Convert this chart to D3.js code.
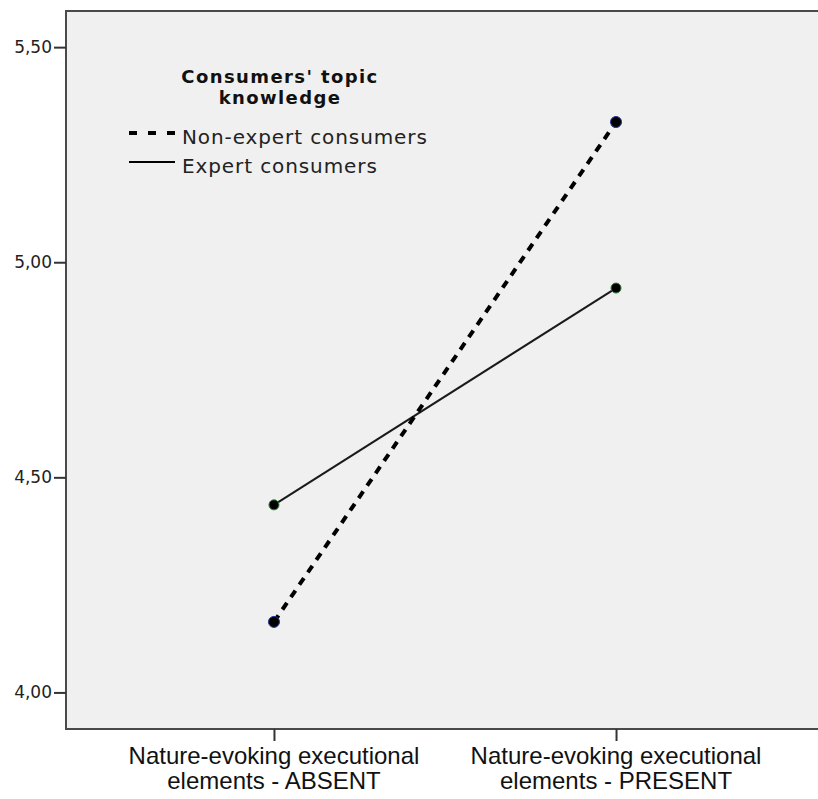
<!DOCTYPE html>
<html>
<head>
    <script src="https://d3js.org/d3.v7.min.js"></script>
    <style>
        body { margin: 0; background: #fff; }
        svg { display: block; }
        .tick text { font-family: "DejaVu Sans", sans-serif; font-size: 17px; fill: #222; }
        .xlab { font-family: "Liberation Sans", Arial, sans-serif; font-size: 24px; fill: #111; }
        .legend-title { font-family: "DejaVu Sans", sans-serif; font-size: 18px; font-weight: bold; fill: #111; letter-spacing: 1.4px; }
        .legend-item { font-family: "DejaVu Sans", sans-serif; font-size: 20px; fill: #222; letter-spacing: 0.9px; }
    </style>
</head>
<body>
    <svg id="chart" width="818" height="799"></svg>
    <script>
        // data
        const categories = ["ABSENT", "PRESENT"];
        const categoryLabels = [
            ["Nature-evoking executional", "elements - ABSENT"],
            ["Nature-evoking executional", "elements - PRESENT"]
        ];
        const nonExpertValues = [4.164, 5.326];
        const expertValues = [4.436, 4.940];
        const yTickValues = [4.00, 4.50, 5.00, 5.50];
        const legendTitle = ["Consumers' topic", "knowledge"];
        const seriesNames = ["Non-expert consumers", "Expert consumers"];

        const svg = d3.select("#chart");
        const margin = { top: 11, right: -6, bottom: 70, left: 66 };
        const width = +svg.attr("width") - margin.left - margin.right;
        const height = +svg.attr("height") - margin.top - margin.bottom;

        const g = svg.append("g").attr("transform", `translate(${margin.left},${margin.top})`);

        const y = d3.scaleLinear().domain([3.915, 5.584]).range([height, 0]);
        const x = d3.scalePoint().domain(categories).range([0, width]).padding(0.608);

        // plot background and frame
        g.append("rect")
            .attr("width", width).attr("height", height)
            .attr("fill", "#f0f0f0")
            .attr("stroke", "#4a4a4a")
            .attr("stroke-width", 2);

        const fmt = v => d3.format(".2f")(v).replace(".", ",");
        const yAxis = g.append("g")
            .call(d3.axisLeft(y).tickValues(yTickValues).tickSize(12).tickPadding(2).tickFormat(fmt));
        yAxis.select(".domain").remove();
        yAxis.selectAll(".tick line").attr("stroke", "#333").attr("stroke-width", 2);

        const xAxis = g.append("g")
            .attr("transform", `translate(0,${height})`)
            .call(d3.axisBottom(x).tickSize(12).tickFormat(""));
        xAxis.select(".domain").remove();
        xAxis.selectAll(".tick line").attr("stroke", "#333").attr("stroke-width", 2);

        categories.forEach((c, i) => {
            const t = g.append("text")
                .attr("class", "xlab")
                .attr("text-anchor", "middle")
                .attr("transform", `translate(${x(c)},${height + 35})`);
            categoryLabels[i].forEach((line, j) => {
                t.append("tspan").attr("x", 0).attr("y", j * 25).text(line);
            });
        });

        const line = d3.line().x((d, i) => x(categories[i])).y(d => y(d));

        g.append("path")
            .datum(expertValues)
            .attr("fill", "none")
            .attr("stroke", "#1a1a1a")
            .attr("stroke-width", 2)
            .attr("d", line);

        g.append("path")
            .datum(nonExpertValues)
            .attr("fill", "none")
            .attr("stroke", "#000")
            .attr("stroke-width", 4)
            .attr("stroke-dasharray", "8,7")
            .attr("d", line);

        g.selectAll(".pt-exp")
            .data(expertValues)
            .enter().append("circle")
            .attr("cx", (d, i) => x(categories[i]))
            .attr("cy", d => y(d))
            .attr("r", 5)
            .attr("fill", "#000")
            .attr("stroke", "#2e7d32")
            .attr("stroke-width", 1);

        g.selectAll(".pt-non")
            .data(nonExpertValues)
            .enter().append("circle")
            .attr("cx", (d, i) => x(categories[i]))
            .attr("cy", d => y(d))
            .attr("r", 5.5)
            .attr("fill", "#000")
            .attr("stroke", "#283593")
            .attr("stroke-width", 1);

        // legend
        const legend = svg.append("g");
        legendTitle.forEach((t, i) => {
            legend.append("text")
                .attr("class", "legend-title")
                .attr("x", 280).attr("y", 83 + i * 21)
                .attr("text-anchor", "middle")
                .text(t);
        });
        const dashes = ["8,11", null];
        const widths = [4, 2];
        seriesNames.forEach((name, i) => {
            const yy = 133 + i * 29;
            legend.append("line")
                .attr("x1", 129).attr("x2", 175)
                .attr("y1", yy).attr("y2", yy)
                .attr("stroke", "#000")
                .attr("stroke-width", widths[i])
                .attr("stroke-dasharray", dashes[i]);
            legend.append("text")
                .attr("class", "legend-item")
                .attr("x", 182).attr("y", yy + 11)
                .text(name);
        });
    </script>
</body>
</html>
